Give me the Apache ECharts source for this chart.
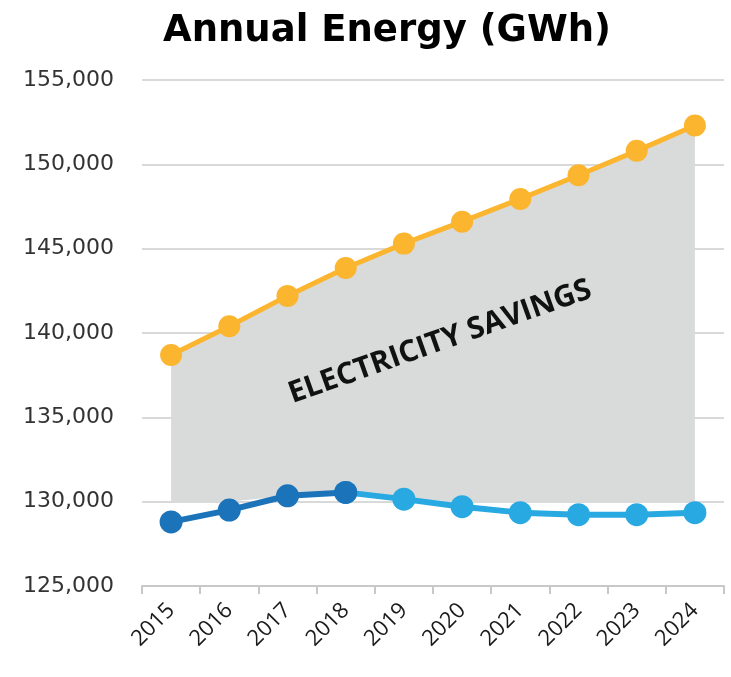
<!DOCTYPE html>
<html>
<head>
<meta charset="utf-8">
<script src="https://cdn.jsdelivr.net/npm/echarts@6/dist/echarts.min.js"></script>
<style>html,body{margin:0;padding:0;background:#fff;}#c{width:731px;height:677px;}</style>
</head>
<body>
<div id="c"></div>
<script>
const years = ['2015','2016','2017','2018','2019','2020','2021','2022','2023','2024'];
const withoutSavings = [138700, 140400, 142200, 143850, 145300, 146600, 147950, 149350, 150800, 152300];
const actualLoad = [128800, 129500, 130350, 130550, null, null, null, null, null, null];
const forecastLoad = [null, null, null, 130550, 130150, 129700, 129350, 129230, 129230, 129350];
const yTicks = [125000, 130000, 135000, 140000, 145000, 150000, 155000];
const annotation = 'ELECTRICITY SAVINGS';

const yMin = yTicks[0], yMax = yTicks[yTicks.length - 1], yStep = yTicks[1] - yTicks[0];
const lower = years.map((_, i) => actualLoad[i] != null ? actualLoad[i] : forecastLoad[i]);
const base = lower.map(v => Math.max(v, yMin + yStep));
const band = withoutSavings.map((v, i) => v - base[i]);

const chart = echarts.init(document.getElementById('c'));
chart.setOption({
  animation: false,
  title: {
    text: 'Annual Energy (GWh)', left: 158, top: 8,
    textStyle: {fontFamily: 'DejaVu Sans', fontWeight: 'bold', fontSize: 37, color: '#000'}
  },
  grid: {left: 142, right: 7, top: 80, bottom: 91},
  xAxis: {
    type: 'category', data: years, boundaryGap: true,
    axisLine: {lineStyle: {color: '#c8c8c8', width: 2}},
    axisTick: {show: true, length: 8, lineStyle: {color: '#c8c8c8', width: 2}},
    axisLabel: {rotate: 45, margin: 21, fontFamily: 'Open Sans', fontSize: 22, color: '#1a1a1a'}
  },
  yAxis: {
    type: 'value', min: yMin, max: yMax, interval: yStep,
    axisLine: {show: false}, axisTick: {show: false},
    splitLine: {lineStyle: {color: '#d9d9d9', width: 2}},
    axisLabel: {
      margin: 28, fontFamily: 'DejaVu Sans', fontSize: 22, color: '#333',
      formatter: v => v.toLocaleString('en-US')
    }
  },
  series: [
    {type: 'line', stack: 'band', data: base, symbol: 'none', lineStyle: {opacity: 0}, silent: true, z: 1},
    {type: 'line', stack: 'band', data: band, symbol: 'none', lineStyle: {opacity: 0},
     areaStyle: {color: '#d9dada', opacity: 1}, silent: true, z: 1},
    {type: 'line', data: withoutSavings, symbol: 'circle', symbolSize: 22,
     itemStyle: {color: '#fbb52f'}, lineStyle: {color: '#fbb52f', width: 5}, z: 3},
    {type: 'line', data: forecastLoad, symbol: 'circle', symbolSize: 23,
     itemStyle: {color: '#29a9e1'}, lineStyle: {color: '#29a9e1', width: 6}, z: 3},
    {type: 'line', data: actualLoad, symbol: 'circle', symbolSize: 23,
     itemStyle: {color: '#1b73ba'}, lineStyle: {color: '#1b73ba', width: 6}, z: 4}
  ],
  graphic: [{
    type: 'text', x: 440, y: 342, rotation: 0.34, z: 10,
    style: {text: annotation, fontFamily: 'Open Sans', fontWeight: 'bold', fontSize: 30,
            fill: '#111', align: 'center', verticalAlign: 'middle'}
  }]
});
</script>
</body>
</html>
